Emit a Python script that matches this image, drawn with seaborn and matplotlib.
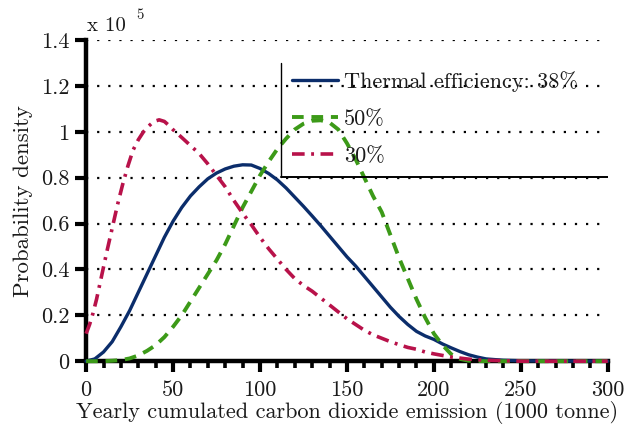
import matplotlib
matplotlib.use("Agg")
import matplotlib.pyplot as plt
import seaborn as sns
import pandas as pd
from matplotlib.ticker import MultipleLocator, FixedLocator
from matplotlib.lines import Line2D

# ---- data (density in units of 1e-5) ----
x_38 = [0, 5, 10, 15, 20, 25, 30, 35, 40, 45, 50, 55, 60, 65, 70, 75, 80, 85, 90, 95,
        100, 105, 110, 115, 120, 125, 130, 135, 140, 145, 150, 155, 160, 165, 170, 175,
        180, 185, 190, 195, 200, 205, 210, 215, 220, 225, 230, 240, 250, 260, 300]
y_38 = [0, 0.01, 0.04, 0.085, 0.15, 0.22, 0.30, 0.38, 0.46, 0.54, 0.61, 0.67, 0.72, 0.76,
        0.795, 0.82, 0.838, 0.85, 0.856, 0.855, 0.84, 0.818, 0.79, 0.755, 0.715, 0.675,
        0.633, 0.59, 0.545, 0.50, 0.455, 0.415, 0.37, 0.325, 0.28, 0.235, 0.195, 0.16,
        0.13, 0.11, 0.095, 0.075, 0.058, 0.042, 0.028, 0.018, 0.01, 0.004, 0.002, 0.001, 0]

x_50 = [0, 10, 15, 20, 25, 30, 35, 40, 45, 50, 55, 60, 65, 70, 75, 80, 85, 90, 95, 100,
        105, 110, 115, 120, 125, 130, 135, 140, 145, 150, 155, 160, 165, 170, 175, 180,
        185, 190, 195, 200, 205, 210, 215, 220, 230, 300]
y_50 = [0, 0, 0.002, 0.005, 0.012, 0.025, 0.045, 0.07, 0.105, 0.15, 0.2, 0.26, 0.32, 0.38,
        0.44, 0.51, 0.59, 0.67, 0.74, 0.81, 0.87, 0.925, 0.97, 1.01, 1.035, 1.048, 1.05,
        1.04, 1.01, 0.95, 0.88, 0.80, 0.72, 0.65, 0.55, 0.45, 0.36, 0.27, 0.19, 0.12,
        0.07, 0.03, 0.01, 0.002, 0, 0]

x_30 = [0, 2, 4, 6, 8, 10, 12, 15, 18, 21, 24, 27, 30, 33, 36, 39, 42, 45, 48, 50, 55,
        60, 65, 70, 75, 80, 85, 90, 95, 100, 105, 110, 115, 120, 125, 130, 135, 140, 145,
        150, 155, 160, 165, 170, 175, 180, 185, 190, 195, 200, 205, 210, 220, 230, 240,
        250, 300]
y_30 = [0.12, 0.16, 0.21, 0.27, 0.34, 0.41, 0.48, 0.58, 0.68, 0.77, 0.85, 0.92, 0.965, 1.0,
        1.025, 1.045, 1.052, 1.045, 1.025, 1.009, 0.975, 0.94, 0.905, 0.86, 0.81, 0.76,
        0.70, 0.645, 0.595, 0.54, 0.49, 0.445, 0.40, 0.36, 0.33, 0.305, 0.275, 0.245,
        0.215, 0.185, 0.16, 0.135, 0.115, 0.10, 0.085, 0.072, 0.06, 0.052, 0.04, 0.032,
        0.025, 0.018, 0.009, 0.004, 0.002, 0, 0]

labels = ["Thermal efficiency: 38%", "50%", "30%"]
x_ticks = [0, 50, 100, 150, 200, 250, 300]
y_ticks = [0, 0.2, 0.4, 0.6, 0.8, 1.0, 1.2, 1.4]
y_tick_labels = ["0", "0.2", "0.4", "0.6", "0.8", "1", "1.2", "1.4"]
xlabel = "Yearly cumulated carbon dioxide emission (1000 tonne)"
ylabel = "Probability density"

sns.set_theme(style="white")
plt.rcParams["font.family"] = ["cmr10", "Liberation Serif", "DejaVu Serif"]
plt.rcParams["axes.unicode_minus"] = False

fig = plt.figure(figsize=(6.24, 4.30), dpi=100)
ax = fig.add_axes([0.138, 0.160, 0.836, 0.747])

blue = "#0b2d6b"
green = "#3c9a18"
red = "#b8124a"
txt = "#1a1a1a"

df38 = pd.DataFrame({"x": x_38, "y": y_38})
df50 = pd.DataFrame({"x": x_50, "y": y_50})
df30 = pd.DataFrame({"x": x_30, "y": y_30})

# grid first (behind)
for yv in y_ticks[1:]:
    ax.axhline(yv, color="black", linestyle=(0, (1, 4)), linewidth=1.6, zorder=1)

sns.lineplot(data=df38, x="x", y="y", ax=ax, color=blue, linewidth=2.4,
             label=labels[0], zorder=3, clip_on=False)
sns.lineplot(data=df50, x="x", y="y", ax=ax, color=green, linewidth=2.8,
             linestyle=(0, (3, 2)), label=labels[1], zorder=3, clip_on=False)
sns.lineplot(data=df30, x="x", y="y", ax=ax, color=red, linewidth=2.6,
             linestyle=(0, (3.5, 1.8, 0.8, 1.8)), label=labels[2], zorder=3,
             clip_on=False)

ax.set_xlim(0, 300)
ax.set_ylim(0, 1.4)
ax.xaxis.set_major_locator(FixedLocator(x_ticks))
ax.xaxis.set_minor_locator(MultipleLocator(10))
ax.yaxis.set_major_locator(FixedLocator(y_ticks))
ax.set_yticklabels(y_tick_labels)
ax.set_xticklabels([str(v) for v in x_ticks])

for side in ["top", "right"]:
    ax.spines[side].set_visible(False)
for side in ["left", "bottom"]:
    ax.spines[side].set_linewidth(3.2)
    ax.spines[side].set_color("black")

ax.tick_params(axis="both", which="major", direction="out", length=8, width=3,
               color="black", labelsize=16, labelcolor=txt, pad=4,
               bottom=True, left=True)
ax.tick_params(axis="x", which="minor", direction="out", length=5, width=2.6,
               color="black", bottom=True)
ax.tick_params(axis="x", which="major", pad=6)

ax.set_xlabel(xlabel, fontsize=16, color=txt)
ax.set_ylabel(ylabel, fontsize=16.5, color=txt)
ax.xaxis.set_label_coords(0.5, -0.125)
ax.yaxis.set_label_coords(-0.102, 0.5)

# multiplier text
fig.text(0.140, 0.929, "x 10", fontsize=15, color=txt, ha="left", va="baseline")
fig.text(0.219, 0.955, "5", fontsize=10.5, color=txt, ha="left", va="baseline")

leg = ax.legend(loc="upper left", bbox_to_anchor=(0.377, 0.931), frameon=False,
                fontsize=16, handlelength=2.07, handletextpad=0.3,
                labelspacing=0.79, borderaxespad=0)
for t in leg.get_texts():
    t.set_color(txt)

# legend frame (only left and bottom edges visible)
ax.add_line(Line2D([0.374, 0.374], [0.573, 0.928], transform=ax.transAxes,
                   color="black", linewidth=1.0, zorder=4))
ax.add_line(Line2D([0.374, 1.0], [0.573, 0.573], transform=ax.transAxes,
                   color="black", linewidth=1.4, zorder=4))

fig.savefig("out.png", dpi=100, facecolor="white")
